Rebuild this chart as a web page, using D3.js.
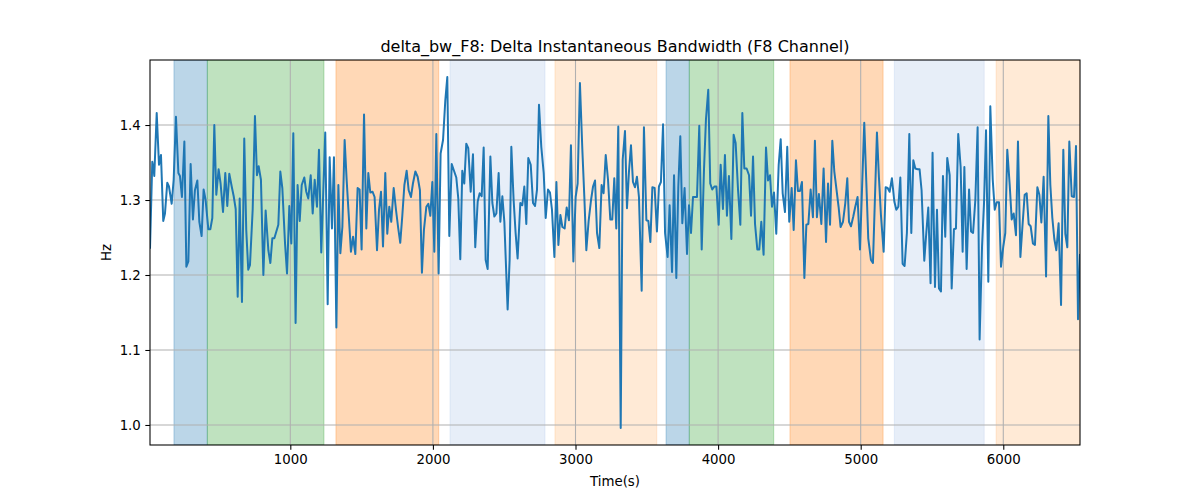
<!DOCTYPE html>
<html><head><meta charset="utf-8">
<script src="https://cdn.jsdelivr.net/npm/d3@7"></script>
<style>body{margin:0;background:#fff}svg{display:block}text{font-family:"DejaVu Sans",sans-serif}</style>
</head><body><svg id="c" width="1200" height="500"></svg>
<script>
const titleText = "delta_bw_F8: Delta Instantaneous Bandwidth (F8 Channel)";
const xLabel = "Time(s)";
const yLabel = "Hz";
const xTicks = [1000, 2000, 3000, 4000, 5000, 6000];
const yTicks = [1.0, 1.1, 1.2, 1.3, 1.4];
const xDomain = [16, 6538];
const yDomain = [0.9733, 1.4867];

const spanStarts = [184, 418, 1320, 2120, 2856, 3635, 3798, 4504, 5236, 5950];
const spanEnds   = [418, 1236, 2041, 2786, 3570, 3798, 4390, 5157, 5866, 6538];
const spanKinds  = ["blue", "green", "orange", "lightblue", "lightorange", "blue", "green", "orange", "lightblue", "lightorange"];

const times = [16,32,42,46,63,79,93,109,121,137,149,168,182,198,215,226,240,257,271,285,301,317,331,348,362,378,392,406,425,439,453,467,481,497,511,528,544,558,572,589,603,617,631,645,661,677,691,705,717,736,752,766,778,794,811,827,
846,860,874,888,902,916,930,944,963,977,993,1007,1021,1037,1051,1066,1080,1098,1112,1126,1143,1157,1171,1187,1201,1217,1245,1262,1276,1292,1306,1323,1337,1351,1365,1381,1395,1409,1425,1440,1456,1472,1486,1500,1517,1533,1547,1561,1577,1591,1608,1622,1636,1650,
1666,1680,1694,1708,1725,1741,1757,1771,1785,1800,1816,1830,1846,1860,1877,1893,1909,1923,1937,1954,1968,1982,1996,2010,2024,2040,2054,2071,2087,2101,2115,2132,2146,2164,2178,2192,2206,2220,2234,2248,2265,2281,2297,2314,2328,2342,2356,2370,2384,2403,2417,2431,2445,2461,
2473,2487,2501,2524,2538,2550,2566,2580,2594,2613,2627,2641,2655,2669,2686,2702,2716,2730,2744,2760,2777,2791,2807,2821,2835,2852,2866,2880,2894,2908,2924,2938,2954,2968,2985,3001,3015,3031,3048,3062,3076,3092,3109,3123,3137,3151,3167,3183,3197,3212,3228,3244,3258,3272,3286,
3300,3317,3331,3347,3361,3375,3389,3403,3417,3431,3445,3464,3480,3497,3511,3525,3539,3555,3571,3585,3599,3614,3628,3646,3660,3677,3691,3707,3721,3735,3749,3765,3782,3796,3810,3824,3838,3852,3868,3885,3901,3915,3931,3945,3959,3974,3988,4004,4018,4034,4048,4062,4076,4093,
4109,4123,4140,4156,4170,4184,4200,4217,4231,4245,4259,4275,4289,4303,4319,4336,4350,4364,4378,4392,4408,4425,4439,4453,4469,4485,4499,4516,4530,4546,4560,4574,4588,4605,4619,4633,4649,4665,4679,4693,4707,4724,4740,4757,4771,4785,4801,4815,4831,4845,4859,4876,4892,4906,
4918,4932,4948,4962,4978,4995,5025,5053,5072,5086,5114,5128,5142,5161,5175,5189,5203,5219,5236,5250,5264,5278,5294,5308,5324,5341,5355,5369,5383,5399,5413,5427,5446,5460,5474,5490,5504,5521,5535,5549,5563,5577,5593,5607,5624,5638,5654,5668,5684,5701,5715,5727,
5743,5760,5774,5788,5804,5820,5834,5851,5865,5879,5895,5909,5926,5940,5954,5970,5984,6000,6014,6028,6045,6059,6073,6089,6103,6120,6134,6150,6164,6178,6192,6208,6222,6239,6253,6267,6283,6300,6316,6330,6344,6358,6372,6388,6405,6421,6435,6449,6463,6480,6496,6510,6524,6538];

const values = [1.235,1.351,1.34,1.332,1.416,1.347,1.36,1.272,1.282,1.323,1.318,1.295,1.327,1.411,1.336,1.332,1.304,1.378,1.211,1.218,1.348,1.274,1.313,1.326,1.271,1.252,1.314,1.30,1.261,1.261,1.276,1.40,1.307,1.341,1.322,1.284,1.336,1.292,1.335,1.318,1.305,1.288,1.171,1.302,1.164,1.382,1.26,1.207,1.213,1.287,1.412,1.333,1.345,1.327,1.20,1.286,
1.233,1.216,1.249,1.249,1.258,1.267,1.338,1.316,1.242,1.202,1.292,1.242,1.389,1.136,1.32,1.272,1.32,1.33,1.311,1.302,1.333,1.282,1.327,1.291,1.367,1.23,1.39,1.161,1.357,1.262,1.357,1.13,1.32,1.229,1.264,1.38,1.327,1.282,1.231,1.251,1.228,1.316,1.314,1.234,1.414,1.262,1.336,1.31,1.311,1.304,1.233,1.287,1.311,1.238,
1.336,1.255,1.291,1.271,1.316,1.287,1.262,1.243,1.278,1.32,1.339,1.313,1.304,1.322,1.338,1.331,1.313,1.203,1.26,1.291,1.295,1.279,1.324,1.231,1.388,1.202,1.362,1.38,1.433,1.464,1.252,1.348,1.34,1.33,1.302,1.221,1.339,1.322,1.375,1.369,1.311,1.361,1.237,1.298,1.309,1.305,1.37,1.22,1.208,1.358,1.296,1.278,1.282,1.336,
1.271,1.305,1.271,1.154,1.22,1.371,1.30,1.256,1.222,1.296,1.293,1.318,1.268,1.356,1.347,1.296,1.292,1.314,1.427,1.371,1.336,1.276,1.314,1.31,1.287,1.224,1.324,1.24,1.28,1.264,1.262,1.29,1.273,1.373,1.218,1.304,1.322,1.456,1.367,1.304,1.233,1.272,1.30,1.318,1.326,1.256,1.236,1.32,1.309,1.36,1.327,1.274,1.274,1.329,1.262,
1.398,0.996,1.354,1.392,1.289,1.338,1.373,1.324,1.317,1.331,1.304,1.179,1.397,1.273,1.272,1.244,1.317,1.316,1.258,1.318,1.324,1.401,1.256,1.224,1.293,1.204,1.333,1.196,1.318,1.385,1.269,1.316,1.228,1.293,1.256,1.304,1.304,1.304,1.399,1.234,1.34,1.408,1.447,1.322,1.314,1.318,1.318,1.267,1.347,1.288,1.36,1.279,1.332,1.248,
1.387,1.376,1.313,1.267,1.416,1.342,1.342,1.333,1.279,1.358,1.268,1.234,1.234,1.271,1.227,1.37,1.326,1.333,1.291,1.31,1.255,1.347,1.381,1.309,1.284,1.371,1.271,1.316,1.26,1.353,1.312,1.312,1.324,1.196,1.267,1.268,1.314,1.277,1.379,1.277,1.308,1.268,1.342,1.244,1.322,1.267,1.379,1.338,1.313,1.291,1.264,1.271,1.296,1.329,
1.271,1.265,1.278,1.291,1.304,1.234,1.403,1.249,1.22,1.216,1.39,1.33,1.28,1.231,1.317,1.316,1.311,1.329,1.298,1.287,1.291,1.33,1.215,1.212,1.256,1.388,1.256,1.353,1.342,1.341,1.341,1.313,1.219,1.256,1.29,1.189,1.363,1.184,1.287,1.182,1.178,1.332,1.251,1.356,1.333,1.182,1.261,1.262,1.388,1.344,1.231,1.344,
1.208,1.314,1.258,1.256,1.30,1.397,1.114,1.238,1.296,1.393,1.191,1.425,1.327,1.287,1.297,1.297,1.211,1.238,1.256,1.367,1.32,1.274,1.282,1.253,1.378,1.224,1.264,1.307,1.309,1.268,1.265,1.242,1.24,1.317,1.307,1.27,1.331,1.198,1.412,1.32,1.276,1.248,1.233,1.269,1.16,1.367,1.255,1.237,1.378,1.305,1.304,1.372,1.141,1.228];

const kindColor = {blue:"#1f77b4", green:"#2ca02c", orange:"#ff7f0e", lightblue:"#aec7e8", lightorange:"#ffbb78"};

const M = {left:150, right:1080, top:60, bottom:445};
const svg = d3.select("#c");
const x = d3.scaleLinear().domain(xDomain).range([M.left, M.right]);
const y = d3.scaleLinear().domain(yDomain).range([M.bottom, M.top]);

const clip = svg.append("defs").append("clipPath").attr("id","clip")
  .append("rect").attr("x",M.left).attr("y",M.top).attr("width",M.right-M.left).attr("height",M.bottom-M.top);

// spans
svg.append("g").attr("clip-path","url(#clip)").selectAll("rect").data(spanStarts).join("rect")
  .attr("x",(d)=>x(d)).attr("y",M.top)
  .attr("width",(d,i)=>x(spanEnds[i])-x(d)).attr("height",M.bottom-M.top)
  .attr("fill",(d,i)=>kindColor[spanKinds[i]]).attr("fill-opacity",0.3)
  .attr("stroke",(d,i)=>kindColor[spanKinds[i]]).attr("stroke-opacity",0.3).attr("stroke-width",1);

// grid
const grid = svg.append("g");
grid.selectAll(".gx").data(xTicks).join("line").attr("x1",d=>x(d)).attr("x2",d=>x(d))
  .attr("y1",M.top).attr("y2",M.bottom).attr("stroke","#b0b0b0").attr("stroke-width",1.07);
grid.selectAll(".gy").data(yTicks).join("line").attr("y1",d=>y(d)).attr("y2",d=>y(d))
  .attr("x1",M.left).attr("x2",M.right).attr("stroke","#b0b0b0").attr("stroke-width",1.07);

// line
const pts = times.map((t,i)=>[t, values[i]]);
svg.append("path").datum(pts).attr("clip-path","url(#clip)")
  .attr("fill","none").attr("stroke","#1f77b4").attr("stroke-width",2).attr("stroke-linejoin","round")
  .attr("d", d3.line().x(d=>x(d[0])).y(d=>y(d[1])));

// axes
const xAxis = d3.axisBottom(x).tickValues(xTicks).tickFormat(d3.format("d")).tickSize(4.67).tickPadding(4.5);
const yAxis = d3.axisLeft(y).tickValues(yTicks).tickFormat(d3.format(".1f")).tickSize(4.67).tickPadding(4.5);
const gx = svg.append("g").attr("transform",`translate(0,${M.bottom})`).call(xAxis);
const gy = svg.append("g").attr("transform",`translate(${M.left},0)`).call(yAxis);
[gx,gy].forEach(g=>{
  g.select(".domain").remove();
  g.selectAll(".tick line").attr("stroke","#000").attr("stroke-width",1.07);
  g.selectAll(".tick text").attr("fill","#000").style("font-size","13.33px").style("font-family","DejaVu Sans");
});

svg.append("rect").attr("x",M.left).attr("y",M.top).attr("width",M.right-M.left).attr("height",M.bottom-M.top)
  .attr("fill","none").attr("stroke","#000").attr("stroke-width",1.07);

svg.append("text").attr("x",(M.left+M.right)/2).attr("y",52).attr("text-anchor","middle")
  .style("font-size","16px").text(titleText);
svg.append("text").attr("x",(M.left+M.right)/2).attr("y",486).attr("text-anchor","middle")
  .style("font-size","13.33px").text(xLabel);
svg.append("text").attr("transform",`translate(111,${(M.top+M.bottom)/2}) rotate(-90)`).attr("text-anchor","middle")
  .style("font-size","13.33px").text(yLabel);
</script></body></html>
